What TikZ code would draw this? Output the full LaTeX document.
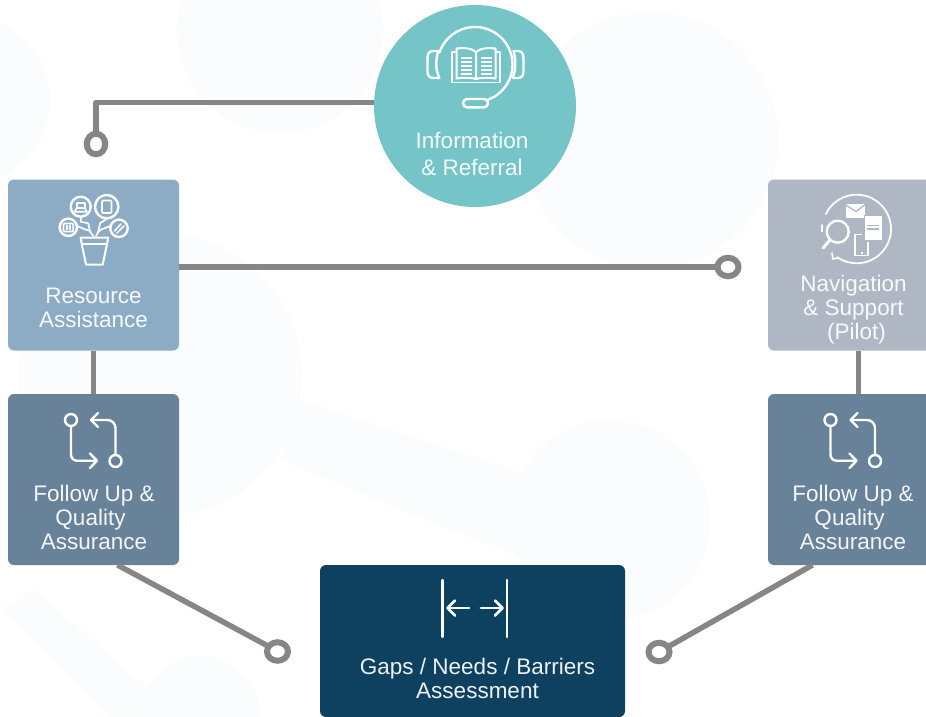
\documentclass[tikz,border=0pt]{standalone}
\usepackage{fontspec}
\setmainfont{Liberation Sans}
\usetikzlibrary{shapes.geometric}
\definecolor{ghost}{HTML}{FBFCFD}
\definecolor{linegray}{HTML}{868686}
\definecolor{teal1}{HTML}{74C4C8}
\definecolor{resblue}{HTML}{8CABC4}
\definecolor{navgray}{HTML}{AEB7C3}
\definecolor{follow}{HTML}{678299}
\definecolor{gapnavy}{HTML}{0D415F}
\tikzset{
  x=1pt,y=-1pt,
  card/.style={draw=none,rounded corners=6pt,minimum width=171pt,minimum height=171pt,inner sep=0pt,outer sep=0pt},
  label/.style={text=white,font=\fontsize{22.5}{24}\selectfont,align=center,inner sep=0pt,opacity=.93},
  conn/.style={draw=linegray,line width=5.5pt,line join=round},
  ring/.style={ellipse,draw=linegray,line width=6pt,fill=white,inner sep=0pt,outer sep=0pt},
  ringH/.style={ring,minimum width=21pt,minimum height=18.5pt},
  ringV/.style={ring,minimum width=18.5pt,minimum height=20.5pt},
  icon/.style={draw=white,line width=2.4pt,line cap=round,line join=round},
  thin icon/.style={draw=white,line width=1.7pt,line cap=round,line join=round},
}
\begin{document}
\begin{tikzpicture}
\useasboundingbox (0,0) rectangle (926,716);
\clip (0,0) rectangle (926,716);
\fill[white] (0,0) rectangle (926,716);
% faint background shapes
\fill[ghost] (-35,100) circle[radius=85];
\fill[ghost] (280,30) circle[radius=103];
\fill[ghost] (650,140) circle[radius=128];
\fill[ghost] (160,375) circle[radius=142];
\fill[ghost] (610,520) circle[radius=100];
\fill[ghost] (300,400) -- (620,505) -- (600,590) -- (280,460) -- cycle;
\fill[ghost] (0,610) -- (35,590) -- (180,716) -- (110,716) -- cycle;
\fill[ghost] (200,716) circle[radius=60];
% nodes
\node[circle,fill=teal1,minimum size=202pt,inner sep=0pt,outer sep=0pt] (info) at (475,106) {};
\node[card,fill=resblue] (res) at (93.5,265) {};
\node[card,fill=navgray] (nav) at (853.5,265) {};
\node[card,fill=follow] (fl) at (93.5,479.5) {};
\node[card,fill=follow] (fr) at (853.5,479.5) {};
\node[card,fill=gapnavy,minimum width=305pt,minimum height=152pt] (gap) at (472.5,641) {};
\node[ringV] (ringA) at (96,144) {};
\node[ringH] (ringB) at (728,267) {};
\node[ringH] (ringC) at (277.5,651.5) {};
\node[ringH] (ringD) at (659,652) {};
% connectors
\draw[conn] (info.178) -| (ringA.north);
\draw[conn] (res.east |- ringB.west) -- (ringB.west);
\draw[conn] (res.south) -- (fl.north);
\draw[conn] ([xshift=5pt]nav.south) -- ([xshift=5pt]fr.north);
\draw[conn] ([xshift=24pt]fl.south) -- (ringC.150);
\draw[conn] ([xshift=-41pt]fr.south) -- (ringD.30);
% labels
\node[label,font=\fontsize{22.5}{27}\selectfont] (tinfo) at (472,154) {Information\\\& Referral};
\node[label] (tres) at (93.5,307.5) {Resource\\Assistance};
\node[label] (tnav) at (853.5,309.5) {Navigation\\\& Support\\\hspace*{6pt}(Pilot)};
\node[label] (tfl) at (94,517) {Follow Up \&\\Quality\rule{7pt}{0pt}\\Assurance};
\node[label] (tfr) at (853,517) {Follow Up \&\\Quality\rule{7pt}{0pt}\\Assurance};
\node[label] (tgap) at (477.5,678) {Gaps / Needs / Barriers\\Assessment};
% headset icon
\draw[icon] (475,64.5) ++(-161:37.5) arc[start angle=-161,end angle=70,radius=37.5];
\draw[icon] (438.3,51) -- (433,51) .. controls (429,51) and (427.5,54) .. (427.5,58) -- (427.5,71) .. controls (427.5,75) and (429,78) .. (433,78) -- (439.3,78) .. controls (435.5,70) and (435.5,60) .. (438.3,51) -- cycle;
\draw[icon] (513.5,51) -- (518,51) .. controls (522,51) and (523.5,54) .. (523.5,58) -- (523.5,71) .. controls (523.5,75) and (522,78) .. (518,78) -- (512.7,78) .. controls (516,70) and (516,60) .. (513.5,51) -- cycle;
\draw[icon,rounded corners=4pt] (463,99) rectangle (488,107.3);
\draw[thin icon] (455,52) -- (452,52) -- (452,82.5) -- (500,82.5) -- (500,52) -- (497,52);
\draw[icon,line width=2pt] (476,52) .. controls (472,48) and (463,47.5) .. (456.5,48.5) -- (456.5,78.5) .. controls (463,77.5) and (472,77.5) .. (476,79) .. controls (480,77.5) and (489,77.5) .. (495.5,78.5) -- (495.5,48.5) .. controls (489,47.5) and (480,48) .. (476,52) -- (476,79);
\foreach \yy in {58,62,66,70,74}{
  \draw[thin icon,line cap=butt] (460.5,\yy) -- (471.5,\yy);
  \draw[thin icon,line cap=butt] (480.5,\yy) -- (491.5,\yy);
}
% plant icon
\draw[icon] (80.7,206.7) circle[radius=10];
\draw[icon] (106.7,206.7) circle[radius=11.7];
\draw[icon] (68.3,227.3) circle[radius=8.7];
\draw[icon] (119,228.3) circle[radius=8.7];
\draw[thin icon] (76.7,202.7) rectangle (85,208.3);
\draw[thin icon] (76.7,208.3) -- (74.5,211.7) -- (87,211.7) -- (85,208.3);
\draw[thin icon,rounded corners=1pt] (102,200.5) rectangle (111.5,213);
\draw[thin icon,rounded corners=1pt] (63.5,223.5) rectangle (73.2,231.5);
\draw[thin icon] (67,225.5) -- (67,229.5) (70,225.5) -- (70,229.5);
\draw[thin icon] (114.5,231) -- (121,224);
\draw[thin icon] (117,233) -- (124,226);
\draw[thin icon] (80.7,218) -- (80.7,221.7) -- (88.3,223.3) -- (90,231.7) -- (93.3,236);
\draw[thin icon] (77,226) -- (85,229.3) -- (90.5,231);
\draw[thin icon] (106.7,219) -- (100,223.3) -- (98.3,231.7) -- (96,236);
\draw[thin icon] (110.5,226) -- (101.7,229.3) -- (98.3,231.7);
\draw[icon,line width=2pt] (80.7,237.5) -- (108.3,237.5) -- (107,244) -- (102.7,264.5) -- (86,264.5) -- (81.7,244) -- cycle;
\draw[thin icon] (81.7,244) -- (107,244);
% navigation icon
\draw[icon,line width=1.8pt] (856.7,229) ++(-154:34.3) arc[start angle=-154,end angle=125,radius=34.3];
\draw[thin icon] (822.3,225) -- (822.3,231.7);
\draw[thin icon] (832,253) -- (833,259) -- (838,258);
\fill[white] (845.7,204) rectangle (865.3,218.3);
\draw[navgray,line width=1.3pt] (845,204.5) -- (856,211.5) -- (866,204);
\draw[icon,line width=1.8pt,line cap=butt] (861.5,234.5) -- (855.3,234.5) -- (855.3,255.5) -- (868,255.5) -- (868,242);
\fill[white] (860.5,252) rectangle (863,254);
\fill[white,draw=navgray,line width=1pt] (864,215.5) rectangle (882,240.5);
\draw[navgray,line width=1.3pt] (867,225.5) -- (878.5,225.5) (867,229) -- (878.5,229);
\draw[icon] (837.7,231.7) circle[radius=11];
\draw[icon,line width=3pt] (830,240) -- (823,248);
% follow-up icons
\foreach \dx in {0,759.5}{
  \begin{scope}[xshift=\dx pt]
  \draw[icon] (71,420) circle[radius=6];
  \draw[icon] (115.5,461) circle[radius=6];
  \draw[icon,rounded corners=6pt] (71,426) -- (71,460.7) -- (96.5,460.7);
  \draw[icon] (90,453.5) -- (97,460.7) -- (90,468);
  \draw[icon,rounded corners=8pt] (115.5,455) -- (115.5,420) -- (91.5,420);
  \draw[icon] (98,413) -- (91,420) -- (98,427);
  \end{scope}
}
% gaps icon
\draw[icon,line width=2.2pt] (442.5,580) -- (442.5,637);
\draw[icon,line width=2.2pt] (507,580) -- (507,637);
\draw[icon,line width=2.8pt] (447.5,608) -- (469,608);
\draw[icon,line width=2.8pt] (455,600.5) -- (447.5,608) -- (455,615.5);
\draw[icon,line width=2.8pt] (481,608) -- (502.5,608);
\draw[icon,line width=2.8pt] (495,600.5) -- (502.5,608) -- (495,615.5);
\end{tikzpicture}
\end{document}
